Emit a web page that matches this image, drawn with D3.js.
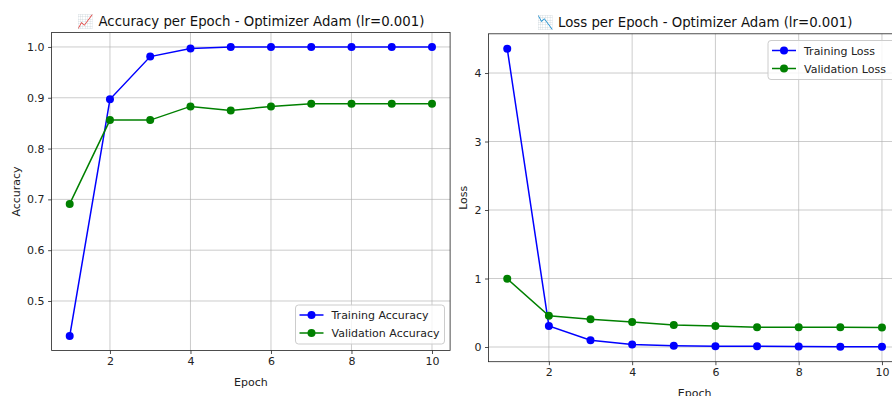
<!DOCTYPE html>
<html><head><meta charset="utf-8">
<script src="https://cdn.jsdelivr.net/npm/d3@7"></script>
<style>
html,body{margin:0;padding:0;background:#fff;}
svg{display:block;font-family:"DejaVu Sans",sans-serif;}
</style></head>
<body><svg id="c" width="892" height="396"></svg>
<script>
const epochs = [1,2,3,4,5,6,7,8,9,10];
const trainAcc = [0.431,0.897,0.981,0.997,1.0,1.0,1.0,1.0,1.0,1.0];
const valAcc = [0.691,0.856,0.856,0.883,0.875,0.883,0.888,0.888,0.888,0.888];
const trainLoss = [4.355,0.307,0.100,0.035,0.020,0.012,0.010,0.006,0.004,0.003];
const valLoss = [0.997,0.457,0.404,0.365,0.321,0.307,0.290,0.288,0.287,0.286];
const xTicks = [2,4,6,8,10];
const accTicks = [0.5,0.6,0.7,0.8,0.9,1.0];
const lossTicks = [0,1,2,3,4];
const accTitle = "\u{1F4C8} Accuracy per Epoch - Optimizer Adam (lr=0.001)";
const lossTitle = "\u{1F4C9} Loss per Epoch - Optimizer Adam (lr=0.001)";
const accLegend = ["Training Accuracy","Validation Accuracy"];
const lossLegend = ["Training Loss","Validation Loss"];
const colors = ["#0000ff","#008000"];

const svg = d3.select("#c");

function pad(arr){ const mn=d3.min(arr), mx=d3.max(arr), r=mx-mn; return [mn-0.05*r, mx+0.05*r]; }

function panel(o){
  const g = svg.append("g");
  const x = d3.scaleLinear().domain([0.55,10.45]).range([o.left,o.right]);
  const y = d3.scaleLinear().domain(pad(o.series.flat())).range([o.bottom,o.top]);
  // grid
  g.append("g").selectAll("line").data(o.xt).join("line")
    .attr("x1",d=>x(d)).attr("x2",d=>x(d)).attr("y1",o.top).attr("y2",o.bottom)
    .attr("stroke","#b0b0b0").attr("stroke-opacity",0.65).attr("stroke-width",1);
  g.append("g").selectAll("line").data(o.yt).join("line")
    .attr("y1",d=>y(d)).attr("y2",d=>y(d)).attr("x1",o.left).attr("x2",o.right)
    .attr("stroke","#b0b0b0").attr("stroke-opacity",0.65).attr("stroke-width",1);
  // axes
  const xa = g.append("g").attr("transform",`translate(0,${o.bottom})`)
    .call(d3.axisBottom(x).tickValues(o.xt).tickFormat(d3.format("d")).tickSize(3.5).tickPadding(3.5));
  const ya = g.append("g").attr("transform",`translate(${o.left},0)`)
    .call(d3.axisLeft(y).tickValues(o.yt).tickFormat(o.yf).tickSize(3.5).tickPadding(3.5));
  [xa,ya].forEach(a=>{a.select(".domain").remove();
    a.selectAll("text").attr("font-size",11).attr("fill","#222").attr("font-family","DejaVu Sans");
    a.selectAll("line").attr("stroke","#222").attr("stroke-width",0.8);});
  // spines
  g.append("rect").attr("x",o.left).attr("y",o.top).attr("width",o.right-o.left).attr("height",o.bottom-o.top)
    .attr("fill","none").attr("stroke","#222").attr("stroke-width",0.8);
  // lines
  o.series.forEach((s,i)=>{
    const line = d3.line().x((d,j)=>x(epochs[j])).y(d=>y(d));
    g.append("path").datum(s).attr("d",line).attr("fill","none").attr("stroke",colors[i]).attr("stroke-width",1.5);
    g.append("g").selectAll("circle").data(s).join("circle")
      .attr("cx",(d,j)=>x(epochs[j])).attr("cy",d=>y(d)).attr("r",4).attr("fill",colors[i]);
  });
  // title & labels
  svg.append("text").attr("x",(o.left+o.right)/2).attr("y",o.top-7).attr("text-anchor","middle")
    .attr("font-size",13.3).attr("fill","#111").text(o.title);
  svg.append("text").attr("x",(o.left+o.right)/2).attr("y",o.bottom+35).attr("text-anchor","middle")
    .attr("font-size",11).attr("fill","#222").text("Epoch");
  svg.append("text").attr("transform",`translate(${o.ylx},${(o.top+o.bottom)/2}) rotate(-90)`)
    .attr("text-anchor","middle").attr("font-size",11).attr("fill","#222").text(o.ylabel);
  // legend
  const lg = svg.append("g").attr("transform",`translate(${o.lx},${o.ly})`);
  lg.append("rect").attr("width",o.lw).attr("height",39).attr("rx",3)
    .attr("fill","#fff").attr("fill-opacity",0.8).attr("stroke","#cccccc").attr("stroke-width",1);
  o.legend.forEach((t,i)=>{
    const yy = 10+i*18;
    lg.append("line").attr("x1",4).attr("x2",28).attr("y1",yy).attr("y2",yy).attr("stroke",colors[i]).attr("stroke-width",1.5);
    lg.append("circle").attr("cx",16).attr("cy",yy).attr("r",4).attr("fill",colors[i]);
    lg.append("text").attr("x",36).attr("y",yy+4).attr("font-size",11).attr("fill","#222").text(t);
  });
}

panel({left:51.6,right:450.1,top:32.5,bottom:350.5,series:[trainAcc,valAcc],xt:xTicks,yt:accTicks,
  yf:d3.format(".1f"),title:accTitle,ylabel:"Accuracy",ylx:20,legend:accLegend,lx:295.5,ly:305,lw:149});
panel({left:488.5,right:900.7,top:33.8,bottom:361.7,series:[trainLoss,valLoss],xt:xTicks,yt:lossTicks,
  yf:d3.format("d"),title:lossTitle,ylabel:"Loss",ylx:467,legend:lossLegend,lx:768,ly:40.5,lw:134});
</script></body></html>
